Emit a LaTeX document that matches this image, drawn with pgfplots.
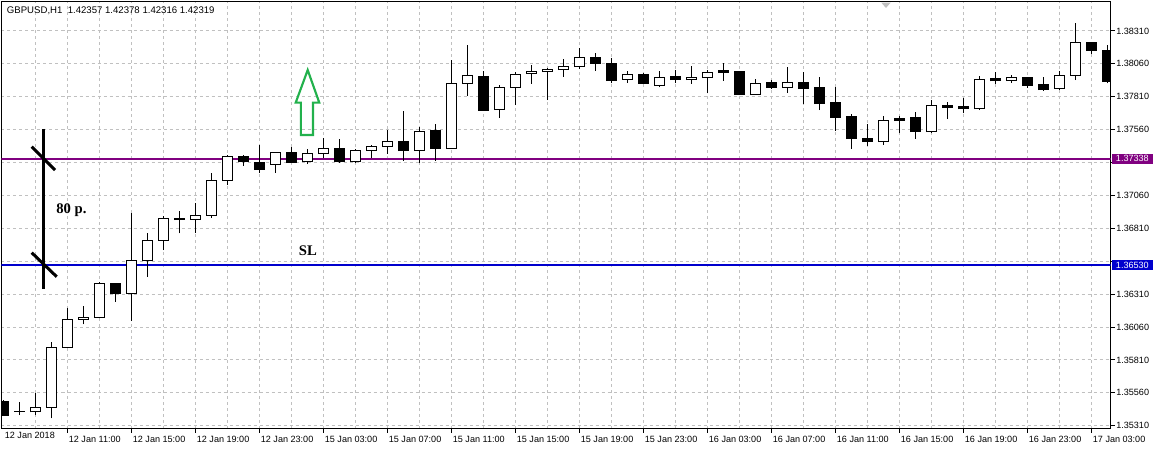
\documentclass[border=0pt]{standalone}
\usepackage{fontspec}
\setmainfont{Liberation Sans}
\newfontfamily\serifb{Liberation Serif}
\usepackage{pgfplots}
\usepackage{pgfplotstable}
\pgfplotsset{compat=1.18}
\definecolor{mtpurple}{RGB}{128,0,128}
\definecolor{mtblue}{RGB}{0,0,205}
\definecolor{mtgreen}{RGB}{34,177,76}
\definecolor{mtgrid}{RGB}{192,192,192}

% bullish (white) candles: index, open, high, low, close
\pgfplotstableread{
i O H L C
2 1.35416 1.35556 1.35391 1.35450
3 1.35450 1.35948 1.35366 1.35906
4 1.35906 1.36202 1.35901 1.36119
5 1.36119 1.36220 1.36081 1.36134
6 1.36134 1.36404 1.36126 1.36392
8 1.36316 1.36929 1.36106 1.36569
9 1.36564 1.36772 1.36442 1.36721
10 1.36721 1.36904 1.36645 1.36886
12 1.36879 1.37000 1.36777 1.36909
13 1.36911 1.37228 1.36889 1.37175
14 1.37172 1.37367 1.37139 1.37357
17 1.37297 1.37390 1.37233 1.37388
19 1.37316 1.37413 1.37297 1.37380
20 1.37377 1.37497 1.37342 1.37418
22 1.37316 1.37411 1.37309 1.37403
23 1.37400 1.37440 1.37342 1.37433
24 1.37430 1.37557 1.37375 1.37471
26 1.37400 1.37578 1.37309 1.37547
28 1.37415 1.38089 1.37411 1.37912
29 1.37912 1.38203 1.37816 1.37973
31 1.37712 1.37899 1.37651 1.37882
32 1.37879 1.37996 1.37747 1.37981
33 1.37988 1.38051 1.37909 1.38003
34 1.38000 1.38026 1.37785 1.38019
35 1.38016 1.38095 1.37962 1.38041
36 1.38038 1.38178 1.38021 1.38110
39 1.37943 1.38003 1.37917 1.37981
41 1.37894 1.38003 1.37882 1.37958
43 1.37940 1.38044 1.37907 1.37958
44 1.37955 1.38011 1.37836 1.37996
47 1.37826 1.37943 1.37826 1.37912
49 1.37882 1.38036 1.37841 1.37920
55 1.37468 1.37664 1.37446 1.37631
58 1.37544 1.37785 1.37532 1.37745
61 1.37717 1.37968 1.37709 1.37943
63 1.37932 1.37973 1.37917 1.37958
66 1.37871 1.38003 1.37861 1.37973
67 1.37973 1.38368 1.37937 1.38224
}\bull

% bearish (black) candles: index, open, high, low, close
\pgfplotstableread{
i O H L C
0 1.35492 1.35505 1.35384 1.35391
1 1.35420 1.35492 1.35391 1.35418
7 1.36392 1.36392 1.36252 1.36311
11 1.36886 1.36942 1.36772 1.36876
15 1.37357 1.37367 1.37286 1.37316
16 1.37314 1.37443 1.37233 1.37256
18 1.37388 1.37430 1.37304 1.37309
21 1.37418 1.37489 1.37309 1.37316
25 1.37471 1.37702 1.37324 1.37400
27 1.37557 1.37603 1.37324 1.37415
30 1.37965 1.38006 1.37704 1.37709
37 1.38110 1.38140 1.38008 1.38064
38 1.38064 1.38102 1.37912 1.37932
40 1.37981 1.37988 1.37907 1.37912
42 1.37965 1.38011 1.37917 1.37940
45 1.38006 1.38064 1.37932 1.37993
46 1.38003 1.38003 1.37823 1.37826
48 1.37915 1.37937 1.37871 1.37879
50 1.37920 1.37998 1.37755 1.37871
51 1.37877 1.37960 1.37709 1.37757
52 1.37763 1.37884 1.37552 1.37651
53 1.37656 1.37679 1.37415 1.37491
54 1.37494 1.37603 1.37436 1.37468
56 1.37643 1.37664 1.37532 1.37628
57 1.37649 1.37694 1.37491 1.37544
59 1.37745 1.37770 1.37639 1.37727
60 1.37732 1.37798 1.37684 1.37717
62 1.37945 1.37998 1.37907 1.37930
64 1.37958 1.37958 1.37879 1.37897
65 1.37902 1.37958 1.37856 1.37864
68 1.38224 1.38224 1.38137 1.38160
69 1.38163 1.38201 1.37912 1.37924
}\bear

\begin{document}
\begin{tikzpicture}
\path[use as bounding box] (0,0) rectangle (864.75pt,336.75pt);
\begin{axis}[
  at={(1.125pt,15pt)}, anchor=south west,
  scale only axis, width=831.9pt, height=320.25pt,
  xmin=-0.1125, xmax=69.2125, ymin=1.35285, ymax=1.38530,
  axis line style={line width=0.75pt},
  every tick/.style={black, line width=0.75pt},
  tick align=outside, xtick pos=bottom, ytick pos=right,
  major tick length=3pt, minor tick length=0pt,
  xtick={4,8,...,68},
  xticklabels={12 Jan 11:00,12 Jan 15:00,12 Jan 19:00,12 Jan 23:00,15 Jan 03:00,15 Jan 07:00,15 Jan 11:00,15 Jan 15:00,15 Jan 19:00,15 Jan 23:00,16 Jan 03:00,16 Jan 07:00,16 Jan 11:00,16 Jan 15:00,16 Jan 19:00,16 Jan 23:00,17 Jan 03:00},
  minor xtick={2,6,...,66},
  extra x ticks={0}, extra x tick labels={12 Jan 2018},
  extra x tick style={grid=none, major tick length=0pt},
  ytick={1.35310,1.35560,1.35810,1.36060,1.36310,1.36560,1.36810,1.37060,1.37310,1.37560,1.37810,1.38060,1.38310},
  yticklabels={1.35310,1.35560,1.35810,1.36060,1.36310,{},1.36810,1.37060,{},1.37560,1.37810,1.38060,1.38310},
  xmajorgrids, xminorgrids, ymajorgrids,
  major grid style={mtgrid, line width=0.75pt, dash pattern=on 2.25pt off 2.25pt},
  minor grid style={mtgrid, line width=0.75pt, dash pattern=on 2.25pt off 2.25pt},
  ticklabel style={font=\fontsize{6.8}{8}\selectfont},
  xticklabel style={anchor=north west, inner sep=0pt, xshift=1pt, yshift=-2pt},
  yticklabel style={anchor=west, inner sep=0pt, xshift=1pt},
  /pgf/number format/assume math mode=true,
]
% horizontal levels
\addplot[mtpurple, line width=1.5pt, mark=none] coordinates {(-1,1.37338) (71,1.37338)};
\addplot[mtblue, line width=1.5pt, mark=none] coordinates {(-1,1.36530) (71,1.36530)};
% wicks
\addplot[draw=none, mark=none, error bars/.cd, y dir=plus, y explicit, error mark=none,
  error bar style={draw=black, line width=0.75pt}]
  table[x=i, y=L, y error plus expr=\thisrow{H}-\thisrow{L}] {\bull};
\addplot[draw=none, mark=none, error bars/.cd, y dir=plus, y explicit, error mark=none,
  error bar style={draw=black, line width=0.75pt}]
  table[x=i, y=L, y error plus expr=\thisrow{H}-\thisrow{L}] {\bear};
% bodies
\addplot[draw=none, mark=none, error bars/.cd, y dir=plus, y explicit, error mark=none,
  error bar style={draw=black, line width=8.25pt}]
  table[x=i, y expr=\thisrow{C}-0.000038, y error plus expr=\thisrow{O}-\thisrow{C}+0.000076] {\bear};
\addplot[draw=none, mark=none, error bars/.cd, y dir=plus, y explicit, error mark=none,
  error bar style={draw=black, line width=8.25pt}]
  table[x=i, y expr=\thisrow{O}-0.000038, y error plus expr=\thisrow{C}-\thisrow{O}+0.000076] {\bull};
\addplot[draw=none, mark=none, error bars/.cd, y dir=plus, y explicit, error mark=none,
  error bar style={draw=white, line width=6.75pt}]
  table[x=i, y expr=\thisrow{O}+0.000038, y error plus expr=\thisrow{C}-\thisrow{O}-0.000076] {\bull};
% annotations
\draw[black, line width=2.25pt] (axis cs:2.5,1.37565) -- (axis cs:2.5,1.36347);
\draw[black, line width=2.25pt] (axis cs:1.775,1.37430) -- (axis cs:3.23,1.37253);
\draw[black, line width=2.25pt] (axis cs:1.775,1.36625) -- (axis cs:3.34,1.36442);
\node[font=\serifb\bfseries\fontsize{11}{13}\selectfont, inner sep=0pt] at (axis cs:4.26,1.36948) {80 p.};
\node[font=\serifb\bfseries\fontsize{11}{13}\selectfont, inner sep=0pt] at (axis cs:19.04,1.36638) {SL};
\draw[mtgreen, line width=1.6pt, line join=miter]
  (axis cs:19.025,1.38013) -- (axis cs:19.75,1.37765) -- (axis cs:19.356,1.37765)
  -- (axis cs:19.356,1.37519) -- (axis cs:18.6,1.37519) -- (axis cs:18.6,1.37765)
  -- (axis cs:18.275,1.37765) -- cycle;
\coordinate (pl) at (axis cs:69.2125,1.37338);
\coordinate (bl) at (axis cs:69.2125,1.36530);
\coordinate (tl) at (rel axis cs:0,1);
\coordinate (tri) at (rel axis cs:0.7974,1);
\end{axis}
\node[fill=mtpurple, text=white, anchor=west, inner xsep=3pt, inner ysep=0pt, minimum height=7.5pt,
  text width=28pt, align=left, font=\fontsize{6.8}{7}\selectfont] at ([xshift=0.75pt]pl) {1.37338};
\node[fill=mtblue, text=white, anchor=west, inner xsep=3pt, inner ysep=0pt, minimum height=7.5pt,
  text width=28pt, align=left, font=\fontsize{6.8}{7}\selectfont] at ([xshift=0.75pt]bl) {1.36530};
\node[anchor=west, inner sep=0pt, font=\fontsize{7.2}{8}\selectfont] at ([xshift=3.9pt,yshift=-6.75pt]tl)
  {GBPUSD,H1\ \ 1.42357 1.42378 1.42316 1.42319};
\fill[mtgrid] ([xshift=-3.5pt,yshift=-0.5pt]tri) -- ([xshift=3.5pt,yshift=-0.5pt]tri) -- ([yshift=-4.5pt]tri) -- cycle;
\end{tikzpicture}
\end{document}
